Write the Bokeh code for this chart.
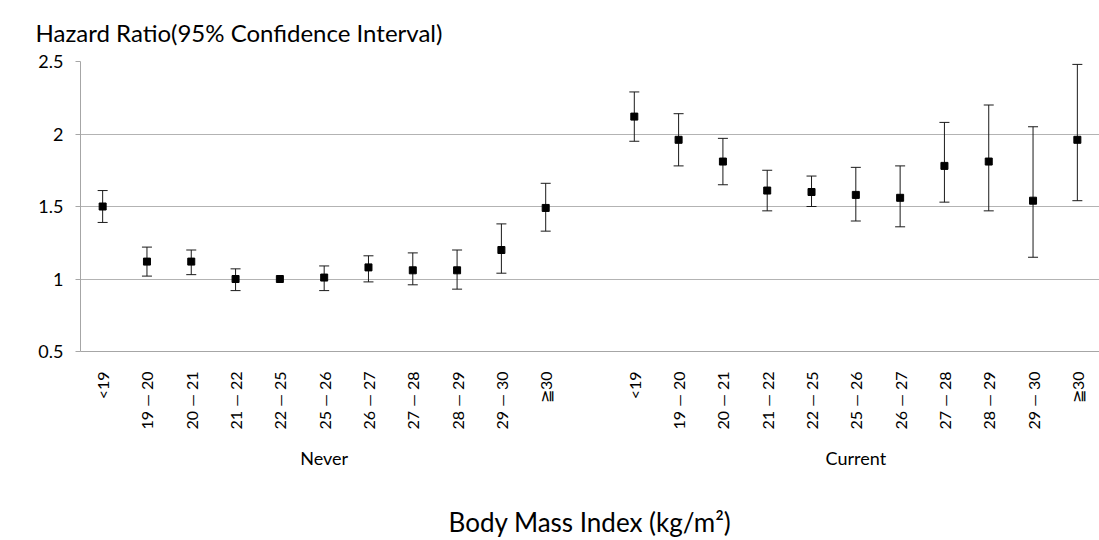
import math
from bokeh.plotting import figure
from bokeh.models import (FactorRange, ColumnDataSource, Whisker, TeeHead,
                          FixedTicker, CustomJSTickFormatter, Title, Range1d)
from bokeh.embed import file_html
from bokeh.resources import INLINE

# ---- data ----
groups = ["Never", "Current"]
bmi_labels = ["<19", "19 — 20", "20 — 21", "21 — 22", "22 — 25", "25 — 26",
              "26 — 27", "27 — 28", "28 — 29", "29 — 30", "≧30"]
never_hr = [1.50, 1.12, 1.12, 1.00, 1.00, 1.01, 1.08, 1.06, 1.06, 1.20, 1.49]
never_lo = [1.39, 1.02, 1.03, 0.92, None, 0.92, 0.98, 0.96, 0.93, 1.04, 1.33]
never_hi = [1.61, 1.22, 1.20, 1.07, None, 1.09, 1.16, 1.18, 1.20, 1.38, 1.66]
current_hr = [2.12, 1.96, 1.81, 1.61, 1.60, 1.58, 1.56, 1.78, 1.81, 1.54, 1.96]
current_lo = [1.95, 1.78, 1.65, 1.47, 1.50, 1.40, 1.36, 1.53, 1.47, 1.15, 1.54]
current_hi = [2.29, 2.14, 1.97, 1.75, 1.71, 1.77, 1.78, 2.08, 2.20, 2.05, 2.48]
y_ticks = [0.5, 1, 1.5, 2, 2.5]

title_text = "Hazard Ratio(95% Confidence  Interval)"
x_title = "Body Mass Index (kg/m²)"

# ---- build sources ----
hr_by_group = {"Never": (never_hr, never_lo, never_hi),
               "Current": (current_hr, current_lo, current_hi)}
xs, ys = [], []
wx, wlo, whi = [], [], []
for g in groups:
    hr, lo, hi = hr_by_group[g]
    for b, v, l, h in zip(bmi_labels, hr, lo, hi):
        xs.append((g, b))
        ys.append(v)
        if l is not None and h is not None:
            wx.append((g, b))
            wlo.append(l)
            whi.append(h)

pts = ColumnDataSource(dict(x=xs, y=ys))
err = ColumnDataSource(dict(x=wx, lower=wlo, upper=whi))

factors = [(g, b) for g in groups for b in bmi_labels]

p = figure(width=1099, height=540, output_backend="svg", toolbar_location=None,
           x_range=FactorRange(*factors, group_padding=1.0, range_padding=0),
           y_range=Range1d(y_ticks[0], y_ticks[-1]),
           min_border_left=80, min_border_right=0, min_border_top=60,
           min_border_bottom=188)
p.outline_line_color = None
p.background_fill_color = "white"
p.border_fill_color = "white"

t = Title(text=title_text, align="left", offset=-45,
          text_font="Lato", text_font_size="24px", text_font_style="normal",
          text_color="#000000", standoff=30)
p.add_layout(t, "above")

# error bars
head = dict(size=10, line_color="#1a1a1a", line_width=1)
w = Whisker(source=err, base="x", lower="lower", upper="upper", dimension="height",
            line_color="#1a1a1a", line_width=1,
            upper_head=TeeHead(**head), lower_head=TeeHead(**head))
p.add_layout(w)

p.scatter(x="x", y="y", source=pts, marker="square", size=7,
          fill_color="black", line_color="black")

# y axis
p.yaxis.ticker = FixedTicker(ticks=y_ticks)
p.yaxis.formatter = CustomJSTickFormatter(code="return tick.toString();")
p.yaxis.axis_line_color = "#a6a6a6"
p.yaxis.major_tick_line_color = "#a6a6a6"
p.yaxis.major_tick_out = 5
p.yaxis.major_tick_in = 0
p.yaxis.minor_tick_line_color = None
p.yaxis.major_label_text_font = "Lato"
p.yaxis.major_label_text_font_size = "18px"
p.yaxis.major_label_text_color = "#000000"
p.yaxis.major_label_standoff = 12

p.ygrid.grid_line_color = "#b3b3b3"
p.ygrid.ticker = FixedTicker(ticks=y_ticks)
p.xgrid.grid_line_color = None

# x axis
xa = p.xaxis[0]
xa.axis_line_color = "#a6a6a6"
xa.major_tick_line_color = None
xa.minor_tick_line_color = None
xa.separator_line_color = None
xa.major_label_orientation = math.pi / 2
xa.major_label_text_font = "Lato"
xa.major_label_text_font_size = "16px"
xa.major_label_text_color = "#000000"
xa.major_label_standoff = 14
xa.group_text_font = "Lato"
xa.group_text_font_size = "18px"
xa.group_text_font_style = "normal"
xa.group_text_color = "#000000"
xa.axis_label = x_title
xa.axis_label_text_font = "Lato"
xa.axis_label_text_font_size = "26px"
xa.axis_label_text_font_style = "normal"
xa.axis_label_text_color = "#000000"
xa.axis_label_standoff = 34

open("out.html", "w").write(file_html(p, INLINE))
